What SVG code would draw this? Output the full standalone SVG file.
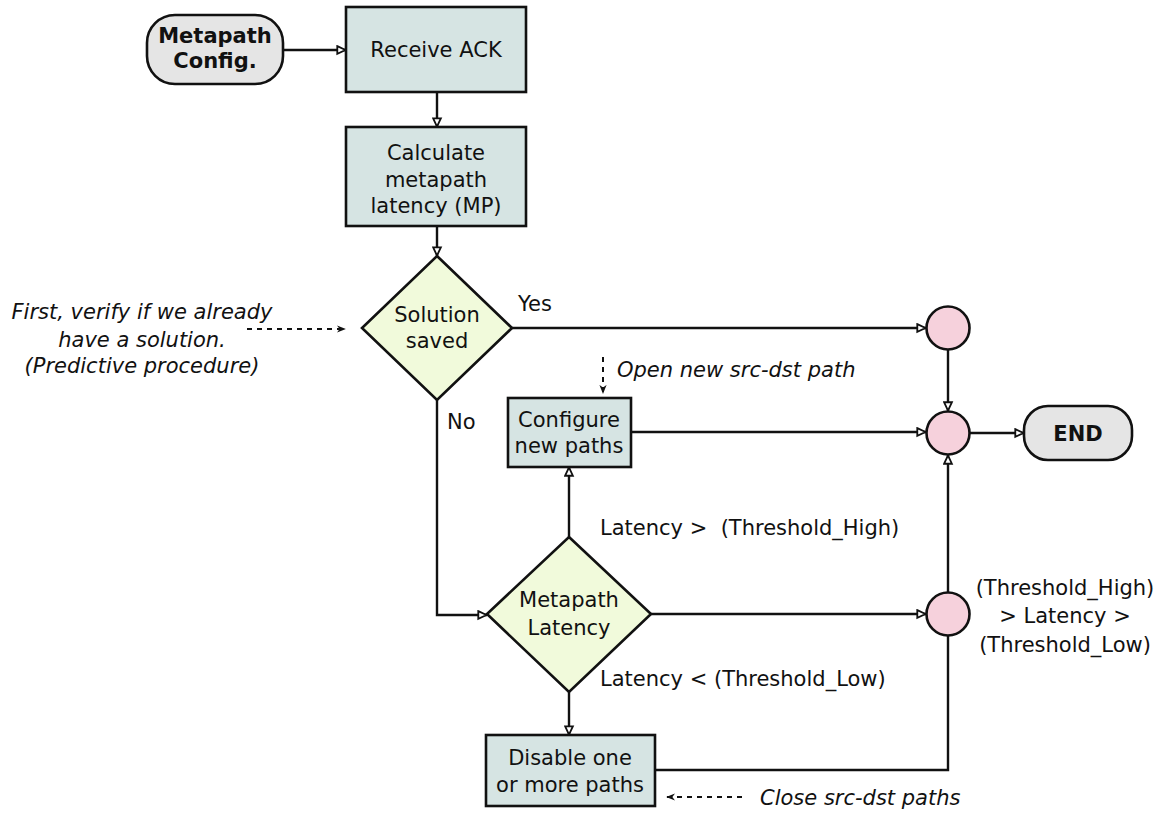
<svg xmlns="http://www.w3.org/2000/svg" width="1166" height="816" viewBox="0 0 1166 816">
  <style>
    text { font-family: "DejaVu Sans", "Liberation Sans", sans-serif; font-size: 21px; fill: #111; }
    .c { text-anchor: middle; }
    .b { font-weight: bold; }
    .i { font-style: italic; }
    .term { fill: #e5e5e5; stroke: #111; stroke-width: 2.6; }
    .proc { fill: #d6e4e3; stroke: #111; stroke-width: 2.6; }
    .dec { fill: #f1fadb; stroke: #111; stroke-width: 2.6; }
    .junc { fill: #f6d1dc; stroke: #111; stroke-width: 2.6; }
    .edge { fill: none; stroke: #111; stroke-width: 2.4; marker-end: url(#arr); }
    .plain { fill: none; stroke: #111; stroke-width: 2.4; }
    .note { fill: none; stroke: #111; stroke-width: 2; stroke-dasharray: 5 5; marker-end: url(#dash); }
  </style>
  <defs>
    <marker id="arr" viewBox="0 0 12 12" refX="11" refY="6" markerWidth="11" markerHeight="11" markerUnits="userSpaceOnUse" orient="auto">
      <path d="M1.5,1.8 L10.5,6 L1.5,10.2 Z" fill="#fff" stroke="#111" stroke-width="2"/>
    </marker>
    <marker id="dash" viewBox="0 0 10 10" refX="9" refY="5" markerWidth="9" markerHeight="9" markerUnits="userSpaceOnUse" orient="auto">
      <path d="M0,1 L10,5 L0,9 L3,5 Z" fill="#111"/>
    </marker>
  </defs>

  <!-- connectors -->
  <g id="connectors">
    <path class="edge" d="M283,50 L346,50"/>
    <path class="edge" d="M437,92 L437,127"/>
    <path class="edge" d="M437,226 L437,256"/>
    <path class="edge" d="M512,328 L926,328"/>
    <path class="edge" d="M437,400 L437,615 L487,615"/>
    <path class="edge" d="M948,350 L948,411"/>
    <path class="edge" d="M631,432 L926,432"/>
    <path class="edge" d="M970,433 L1024,433"/>
    <path class="edge" d="M569,537 L569,467"/>
    <path class="edge" d="M651,614 L926,614"/>
    <path class="edge" d="M569,692 L569,735"/>
    <path class="plain" d="M655,770 L948,770 L948,636"/>
    <path class="edge" d="M948,592 L948,455"/>
    <path class="note" d="M247,329 L345,329"/>
    <path class="note" d="M603,357 L603,393"/>
    <path class="note" d="M742,797 L667,797"/>
  </g>

  <!-- edge labels and notes -->
  <g id="labels">
    <text x="518" y="311">Yes</text>
    <text x="447" y="429">No</text>
    <text x="600" y="535" xml:space="preserve">Latency &gt;  (Threshold_High)</text>
    <text x="600" y="686">Latency &lt; (Threshold_Low)</text>
    <text class="c" x="1065" y="595">(Threshold_High)</text>
    <text class="c" x="1065" y="623">&gt; Latency &gt;</text>
    <text class="c" x="1065" y="652">(Threshold_Low)</text>
    <text class="c i" x="142" y="319">First, verify if we already</text>
    <text class="c i" x="142" y="347">have a solution.</text>
    <text class="c i" x="142" y="373">(Predictive procedure)</text>
    <text class="i" x="617" y="377">Open new src-dst path</text>
    <text class="i" x="760" y="805">Close src-dst paths</text>
  </g>

  <g id="start">
    <rect class="term" x="147" y="15" width="136" height="69" rx="28" ry="28"/>
    <text class="c b" x="215" y="43">Metapath</text>
    <text class="c b" x="215" y="68">Config.</text>
  </g>

  <g id="receive-ack">
    <rect class="proc" x="346" y="7" width="180" height="85"/>
    <text class="c" x="436" y="57">Receive ACK</text>
  </g>

  <g id="calc-latency">
    <rect class="proc" x="346" y="127" width="180" height="99"/>
    <text class="c" x="436" y="160">Calculate</text>
    <text class="c" x="436" y="187">metapath</text>
    <text class="c" x="436" y="213">latency (MP)</text>
  </g>

  <g id="solution-saved">
    <polygon class="dec" points="437,256 512,328 437,400 362,328"/>
    <text class="c" x="437" y="322">Solution</text>
    <text class="c" x="437" y="348">saved</text>
  </g>

  <g id="configure">
    <rect class="proc" x="508" y="398" width="123" height="69"/>
    <text class="c" x="569" y="427">Configure</text>
    <text class="c" x="569" y="453">new paths</text>
  </g>

  <g id="metapath-latency">
    <polygon class="dec" points="569,537 651,614 569,692 487,614"/>
    <text class="c" x="569" y="607">Metapath</text>
    <text class="c" x="569" y="635">Latency</text>
  </g>

  <g id="disable">
    <rect class="proc" x="486" y="735" width="169" height="71"/>
    <text class="c" x="570" y="765">Disable one</text>
    <text class="c" x="570" y="792">or more paths</text>
  </g>

  <g id="join-1">
    <circle class="junc" cx="948" cy="328" r="21.5"/>
  </g>
  <g id="join-2">
    <circle class="junc" cx="948" cy="433" r="21.5"/>
  </g>
  <g id="join-3">
    <circle class="junc" cx="948" cy="614" r="21.5"/>
  </g>

  <g id="end">
    <rect class="term" x="1024" y="406" width="108" height="54" rx="24" ry="24"/>
    <text class="c b" x="1078" y="441">END</text>
  </g>
</svg>
